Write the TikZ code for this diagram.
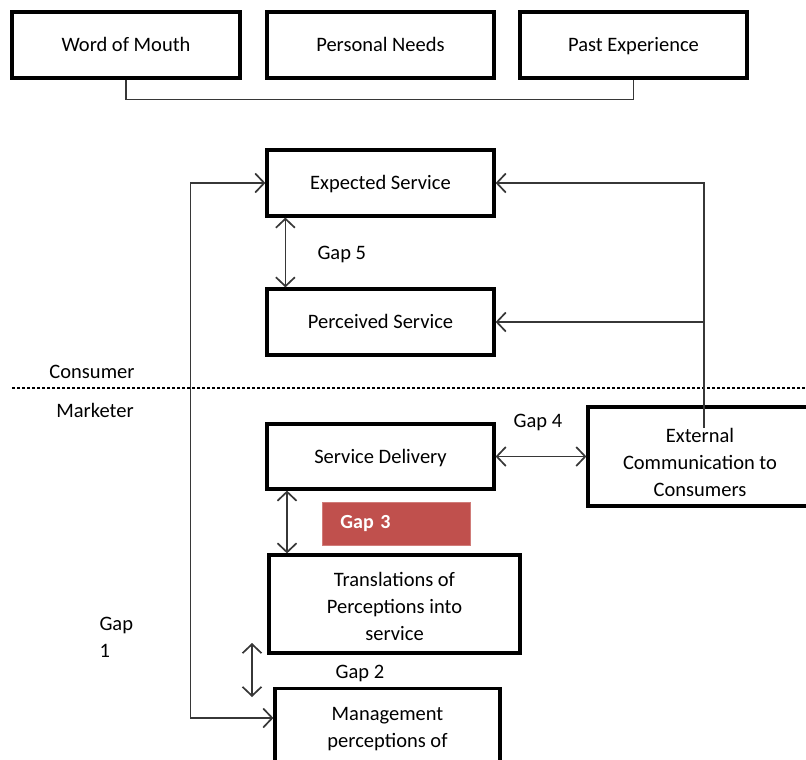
\documentclass[tikz,border=0pt]{standalone}
\usepackage{fontspec}
\setmainfont{Carlito}
\usetikzlibrary{arrows.meta,calc}
\definecolor{gapred}{RGB}{192,80,77}
\definecolor{connline}{RGB}{55,55,55}
\begin{document}
\begin{tikzpicture}[x=1pt,y=-1pt,
  txt/.style={font=\fontsize{20.5}{27}\selectfont},
  box/.style={txt, draw=black, line width=3.2pt, minimum height=66pt,
              inner sep=2pt, align=center},
  sbox/.style={box, text height=16pt, text depth=2.5pt},
  conn/.style={draw=connline, line width=1.7pt},
  chev/.tip={Straight Barb[length=9pt,width=19pt,line width=1.7pt]},
  gapbox/.style={fill=gapred, draw=gapred!75!white, line width=0.8pt,
                 minimum height=43pt, text=white, align=left,
                 font=\fontsize{20}{24}\selectfont\bfseries}]
\useasboundingbox (0,0) rectangle (806,760);

% expectation sources
\node[sbox, minimum width=228pt] (wom) at (126,45) {Word of Mouth};
\node[sbox, minimum width=227pt] (pn)  at (380.5,45) {Personal Needs};
\node[sbox, minimum width=227pt] (pe)  at (633.5,45) {Past Experience};
\draw[conn] (wom.south) -- ++(0,20) -| (pe.south);

% consumer side
\node[sbox, minimum width=227pt] (exp)  at (380.5,183) {Expected Service};
\node[sbox, minimum width=227pt] (perc) at (380.5,322) {Perceived Service};

\draw[conn, chev-chev] ([xshift=20pt]exp.south west) -- ([xshift=20pt]perc.north west);
\node[txt, anchor=west] (gap5) at (314,254) {Gap 5};

% boundary between consumer and marketer
\draw[line width=1.2pt, dash pattern=on 3pt off 2pt] (12,388) -- (806,388);
\node[txt] (consumer) at (92,372) {Consumer};
\node[txt] (marketer) at (95,410) {Marketer};

% marketer side
\node[sbox, minimum width=227pt, minimum height=65pt] (deliv) at (380.5,456.5) {Service Delivery};
\node[box, minimum width=224pt, minimum height=99pt] (ext) at (700,456.5) {};
\node[txt, align=center] (exttext) at (700,462)
  {External\\Communication to\\Consumers};

\coordinate (extin) at (704,428);
\draw[conn, -chev] (extin) |- (exp.east);
\draw[conn, -chev] (extin |- perc.east) -- (perc.east);

\draw[conn, chev-chev] (deliv.east) -- (deliv.east -| ext.west);
\node[txt] (gap4) at (538,422) {Gap 4};

\node[box, minimum width=251pt, minimum height=98pt] (trans) at (394.5,604) {};
\node[txt, align=center] (transtext) at (394.5,606)
  {Translations of\\Perceptions into\\service};

\node[gapbox, minimum width=148pt, text width=112pt, inner xsep=18pt, anchor=north west]
  (gap3) at (322,502) {Gap 3};
\draw[conn, chev-chev] (deliv.south -| 287,0) -- (trans.north -| 287,0);

\node[box, minimum width=225pt, minimum height=110pt, anchor=north] (mgmt) at (387.5,687) {};
\node[txt, align=center, anchor=north] (mgmttext) at ([yshift=-17pt]mgmt.north)
  {Management\\perceptions of};

\coordinate (g2top) at (252,643);
\coordinate (g2bot) at (252,697);
\draw[conn, chev-chev] (g2top) -- (g2bot);
\node[txt] (gap2) at (360,673) {Gap 2};

% gap 1 loop between management perceptions and expected service
\draw[conn, chev-chev] (exp.west) -- ++(-75,0) |- ([yshift=-31pt]mgmt.north west);
\node[txt, align=left, anchor=west] (gap1) at (96,637) {Gap\\1};
\end{tikzpicture}
\end{document}
